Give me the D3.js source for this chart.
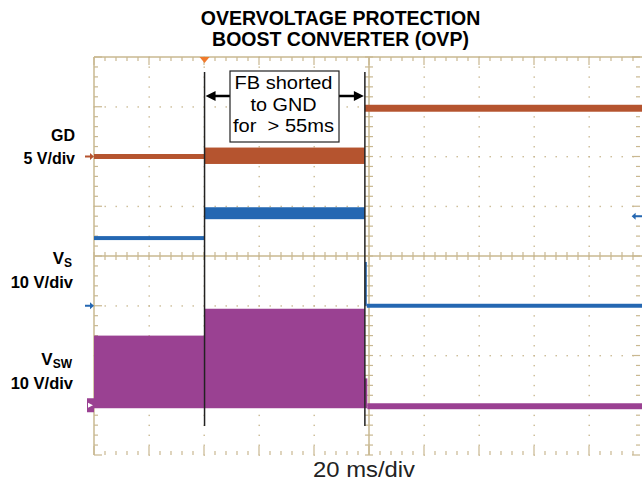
<!DOCTYPE html>
<html>
<head>
<meta charset="utf-8">
<script src="https://cdn.jsdelivr.net/npm/d3@7"></script>
<style>
	body { margin: 0; background: white; }
	text { font-family: "Liberation Sans", Arial, sans-serif; white-space: pre; }
</style>
</head>
<body>
<div id="scope"></div>
<script>
// time in ms (20 ms/div, 10 div), volts per channel
const titleLines = ["OVERVOLTAGE PROTECTION", "BOOST CONVERTER (OVP)"];
const xLabel = "20 ms/div";
const cursorTimes = [40.2, 98.5];
const triggerTime = 40.2;
const boxLines = ["FB shorted", "to GND", "for  > 55ms"];

const channels = ["GD", "VS", "VSW"];
const chOffset = [2, -1, -3];        // divisions
const chScale = [5, 10, 10];         // V/div
const chColor = ["#b5542f", "#2467b2", "#9a4192"];

// [tStart, tEnd, vLow, vHigh]
const gdSegs = [[0, 40.2, -0.25, 0.25], [40.2, 98.5, -0.75, 0.9], [98.5, 200, 4.5, 5.2]];
const vsSegs = [[0, 40.2, 13.2, 14.0], [40.2, 98.5, 17.4, 19.8], [98.5, 99.2, 0, 8.8], [99.2, 200, -0.4, 0.4]];
const vswSegs = [[0, 40.2, -0.6, 14.0], [40.2, 98.5, -0.6, 19.4], [98.5, 99.4, -0.6, 5.4], [99.4, 200, -0.8, 0.4]];
const allSegs = [gdSegs, vsSegs, vswSegs];

const W = 642, H = 482;
const svg = d3.select("#scope").append("svg")
	.attr("width", W).attr("height", H)
	.style("background-color", "white");

const x = d3.scaleLinear().domain([0, 200]).range([94, 644]);
const y = d3.scaleLinear().domain([-4, 4]).range([455, 57]);
const grid = "#c9b891";

// dotted major grid
const g = svg.append("g");
const majorT = d3.range(20, 200, 20).filter(t => t != 100);
const minorT = d3.range(0, 201, 4);
const majorD = d3.range(-3, 4, 1).filter(d => d != 0);
const minorD = d3.range(-4, 4.01, 0.2);
for (let t of majorT)
	for (let d of minorD)
		g.append("rect").attr("x", x(t) - 0.5).attr("y", y(d) - 0.5).attr("width", 1.4).attr("height", 1.4).attr("fill", grid);
for (let d of majorD)
	for (let t of minorT)
		g.append("rect").attr("x", x(t) - 0.5).attr("y", y(d) - 0.5).attr("width", 1.4).attr("height", 1.4).attr("fill", grid);

// frame lines
g.append("line").attr("x1", x(0)).attr("x2", x(200)).attr("y1", y(4)).attr("y2", y(4)).attr("stroke", grid).attr("stroke-width", 1.5);
g.append("line").attr("x1", x(0)).attr("x2", x(0)).attr("y1", y(4)).attr("y2", y(-4)).attr("stroke", grid).attr("stroke-width", 1.5);
g.append("line").attr("x1", x(100)).attr("x2", x(100)).attr("y1", y(4)).attr("y2", y(-4)).attr("stroke", grid).attr("stroke-width", 1.5);
g.append("line").attr("x1", x(0)).attr("x2", x(200)).attr("y1", y(0)).attr("y2", y(0)).attr("stroke", grid).attr("stroke-width", 1.5);

// ticks along top, bottom, centre
for (let t of minorT) {
	let big = t % 20 == 0;
	g.append("line").attr("x1", x(t)).attr("x2", x(t)).attr("y1", y(4)).attr("y2", y(4) + (big ? 8 : 4)).attr("stroke", grid).attr("stroke-width", 1.2);
	g.append("line").attr("x1", x(t)).attr("x2", x(t)).attr("y1", y(-4)).attr("y2", y(-4) - (big ? 9 : 4)).attr("stroke", grid).attr("stroke-width", 1.2);
	g.append("line").attr("x1", x(t)).attr("x2", x(t)).attr("y1", y(0) - 4).attr("y2", y(0) + 4).attr("stroke", grid).attr("stroke-width", 1.2);
}
for (let d of minorD) {
	let big = Math.abs(d - Math.round(d)) < 0.01;
	g.append("line").attr("x1", x(0)).attr("x2", x(0) + (big ? 8 : 4)).attr("y1", y(d)).attr("y2", y(d)).attr("stroke", grid).attr("stroke-width", 1.2);
	g.append("line").attr("x1", x(100) - 4).attr("x2", x(100) + 4).attr("y1", y(d)).attr("y2", y(d)).attr("stroke", grid).attr("stroke-width", 1.2);
	g.append("line").attr("x1", x(200) - 4).attr("x2", x(200) - (big ? 12 : 8)).attr("y1", y(d)).attr("y2", y(d)).attr("stroke", grid).attr("stroke-width", 1.2);
}

// traces as envelope bands
allSegs.forEach((segs, i) => {
	let yv = v => y(chOffset[i] + v / chScale[i]);
	svg.append("g").selectAll("rect").data(segs).join("rect")
		.attr("x", s => x(s[0]))
		.attr("width", s => x(s[1]) - x(s[0]))
		.attr("y", s => yv(s[3]))
		.attr("height", s => yv(s[2]) - yv(s[3]))
		.attr("fill", chColor[i]);
});

// ground reference markers
const arrowL = (cx, cy, col) => svg.append("path")
	.attr("d", `M${cx - 8},${cy - 1}h5v-2.5l4,3.5l-4,3.5v-2.5h-5z`).attr("fill", col);
arrowL(x(0) - 1, y(chOffset[0]), chColor[0]);
arrowL(x(0) - 1, y(chOffset[1]), chColor[1]);
svg.append("rect").attr("x", x(0) - 7).attr("y", y(chOffset[2]) - 7).attr("width", 7).attr("height", 14).attr("fill", chColor[2]);
svg.append("path").attr("d", `M${x(0) - 6},${y(chOffset[2]) - 2.5}l5,2.5l-5,2.5z`).attr("fill", "white");
// off-screen marker on the right
svg.append("path")
	.attr("d", `M${x(195.5)},${y(0.8)}l4,-3.5v2.5h8v2h-8v2.5z`).attr("fill", chColor[1]);
// trigger
svg.append("path")
	.attr("d", `M${x(triggerTime) - 5},${y(4)}h10l-5,6z`).attr("fill", "#f07a2c");

// cursors
svg.selectAll(".cursor").data(cursorTimes).join("line")
	.attr("x1", d => x(d)).attr("x2", d => x(d))
	.attr("y1", 72).attr("y2", 426)
	.attr("stroke", "#222").attr("stroke-width", 1.5);

// annotation box with arrows
const ay = 96;
svg.append("line").attr("x1", 230).attr("x2", x(cursorTimes[0]) + 6).attr("y1", ay).attr("y2", ay).attr("stroke", "black").attr("stroke-width", 2.5);
svg.append("path").attr("d", `M${x(cursorTimes[0]) + 1},${ay}l10,-5v10z`).attr("fill", "black");
svg.append("line").attr("x1", 339).attr("x2", x(cursorTimes[1]) - 6).attr("y1", ay).attr("y2", ay).attr("stroke", "black").attr("stroke-width", 2.5);
svg.append("path").attr("d", `M${x(cursorTimes[1]) - 1},${ay}l-10,-5v10z`).attr("fill", "black");
svg.append("rect").attr("x", 230).attr("y", 71).attr("width", 109).attr("height", 71)
	.attr("fill", "white").attr("stroke", "#222").attr("stroke-width", 1.2);
const boxWidths = [98, 66, 101];
svg.append("g").selectAll("text").data(boxLines).join("text")
	.attr("x", 283.5).attr("y", (d, i) => 89 + i * 21.5)
	.attr("text-anchor", "middle").attr("font-size", 18)
	.attr("textLength", (d, i) => boxWidths[i]).attr("lengthAdjust", "spacingAndGlyphs")
	.text(d => d);

// title
svg.append("g").selectAll("text").data(titleLines).join("text")
	.attr("x", 340.5).attr("y", (d, i) => 25 + i * 21)
	.attr("text-anchor", "middle").attr("font-size", 19.5).attr("font-weight", "bold").text(d => d);

// channel labels
const lab = svg.append("g").attr("font-weight", "bold").attr("text-anchor", "end");
lab.append("text").attr("x", 75).attr("y", 141).attr("font-size", 16).text("GD");
lab.append("text").attr("x", 75).attr("y", 164).attr("font-size", 16).text("5 V/div");
let vs = lab.append("text").attr("x", 72).attr("y", 264).attr("font-size", 17);
vs.append("tspan").text("V");
vs.append("tspan").attr("font-size", 12).attr("dy", 3).text("S");
lab.append("text").attr("x", 73).attr("y", 288).attr("font-size", 16.5).text("10 V/div");
let vsw = lab.append("text").attr("x", 72).attr("y", 365).attr("font-size", 17);
vsw.append("tspan").text("V");
vsw.append("tspan").attr("font-size", 12).attr("dy", 3).text("SW");
lab.append("text").attr("x", 73).attr("y", 389).attr("font-size", 16.5).text("10 V/div");

svg.append("text").attr("x", 364).attr("y", 477).attr("text-anchor", "middle")
	.attr("font-size", 22).attr("fill", "#222")
	.attr("textLength", 102).attr("lengthAdjust", "spacingAndGlyphs").text(xLabel);
</script>
</body>
</html>
